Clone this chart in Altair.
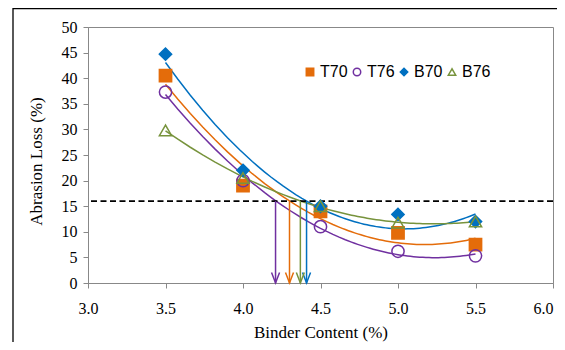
import altair as alt
import pandas as pd

binder = [3.5, 4.0, 4.5, 5.0, 5.5]
series_names = ["T70", "T76", "B70", "B76"]
t70 = [40.5, 19.0, 14.0, 9.8, 7.5]
t76 = [37.3, 20.0, 11.0, 6.2, 5.3]
b70 = [44.7, 22.0, 15.0, 13.4, 12.0]
b76 = [29.8, 20.5, 15.0, 11.8, 12.0]
threshold = [16]
arrow_x = [4.21, 4.30, 4.37, 4.41]
arrow_series = ["T76", "T70", "B76", "B70"]
x_ticks = [3.0, 3.5, 4.0, 4.5, 5.0, 5.5, 6.0]
y_ticks = [0, 5, 10, 15, 20, 25, 30, 35, 40, 45, 50]

colors = ["#E46C0A", "#7030A0", "#0070C0", "#77933C"]
fills = ["#E46C0A", "transparent", "#0070C0", "transparent"]
shapes = ["square", "circle", "diamond", "triangle-up"]

rows = []
for name, vals in zip(series_names, [t70, t76, b70, b76]):
    for b, v in zip(binder, vals):
        rows.append({"binder": b, "loss": v, "series": name})
df = pd.DataFrame(rows)
arrows = pd.DataFrame({"ax": arrow_x, "series": arrow_series,
                       "top": [threshold[0]] * 4, "bot": [0] * 4})
thr = pd.DataFrame({"y": threshold})

xs = alt.Scale(domain=[3, 6], nice=False, zero=False)
ys = alt.Scale(domain=[0, 50], nice=False)

xaxis = alt.Axis(values=x_ticks, format=".1f", title="Binder Content (%)",
                 labelFlush=False, labelOverlap=False, labelPadding=12,
                 titlePadding=8,
                 labelAlign={"condition": {"test": "datum.value >= 5.9", "value": "right"},
                             "value": "center"},
                 labelExpr="datum.value >= 5.9 ? '6.0\u2009' : datum.label")
yaxis = alt.Axis(values=y_ticks, title="Abrasion Loss (%)", labelPadding=6,
                 labelOverlap=False, labelFlush=False, titlePadding=16, titleY=134)

leg = alt.Legend(orient="none", legendX=214, legendY=37, direction="horizontal",
                 title=None, labelFont="Liberation Sans", labelFontSize=16,
                 labelColor="black", symbolSize=55, symbolStrokeWidth=1.5,
                 columnPadding=1, labelOffset=2)

X = alt.X("binder:Q", scale=xs, axis=xaxis)
Y = alt.Y("loss:Q", scale=ys, axis=yaxis)

frame = alt.Chart(pd.DataFrame({"a": [0]})).mark_rect(
    fill="transparent", stroke="black", strokeWidth=1.3
).encode(x=alt.value(-75), x2=alt.value(800), y=alt.value(-18.5), y2=alt.value(600))

layers = [frame]
for name, col in zip(series_names, colors):
    layers.append(
        alt.Chart(df).transform_filter(alt.datum.series == name).transform_regression(
            "binder", "loss", method="poly", order=2
        ).mark_line(strokeWidth=1.5, color=col).encode(x=X, y=Y)
    )

layers.append(
    alt.Chart(thr).mark_rule(color="black", strokeWidth=1.8, strokeDash=[6, 3.5]).encode(
        y=alt.Y("y:Q", scale=ys, axis=yaxis)
    )
)

for name, col in zip(series_names, colors):
    sub = alt.Chart(arrows).transform_filter(alt.datum.series == name)
    layers.append(sub.mark_rule(strokeWidth=1.5, color=col).encode(
        x=alt.X("ax:Q", scale=xs, axis=xaxis), y=alt.Y("top:Q", scale=ys, axis=yaxis), y2="bot:Q"
    ))
    layers.append(sub.mark_point(
        shape="M-1,-2.6L0,0L1,-2.6", size=64, strokeWidth=1.5, filled=False, opacity=1, color=col
    ).encode(
        x=alt.X("ax:Q", scale=xs, axis=xaxis), y=alt.Y("bot:Q", scale=ys, axis=yaxis)
    ))

layers.append(alt.Chart(df).mark_point(size=150, strokeWidth=1.5, opacity=1).encode(
    x=X, y=Y,
    shape=alt.Shape("series:N", scale=alt.Scale(domain=series_names, range=shapes), legend=leg),
    stroke=alt.Stroke("series:N", scale=alt.Scale(domain=series_names, range=colors), legend=leg),
    fill=alt.Fill("series:N", scale=alt.Scale(domain=series_names, range=fills), legend=leg),
))

chart = alt.layer(*layers).properties(
    width=465, height=256,
    autosize=alt.AutoSizeParams(type="none"),
    padding={"left": 80, "top": 19, "right": 4, "bottom": 59},
    background="white",
).configure_view(stroke="#888888", strokeWidth=1).configure_axis(
    labelFont="Liberation Serif", labelFontSize=16, labelColor="black",
    titleFont="Liberation Serif", titleFontSize=17, titleFontWeight="normal",
    titleColor="black", domainColor="#888888", tickColor="#888888", tickSize=5,
    grid=False
)

chart.save("out.html", embed_options={"renderer": "svg", "actions": False})
